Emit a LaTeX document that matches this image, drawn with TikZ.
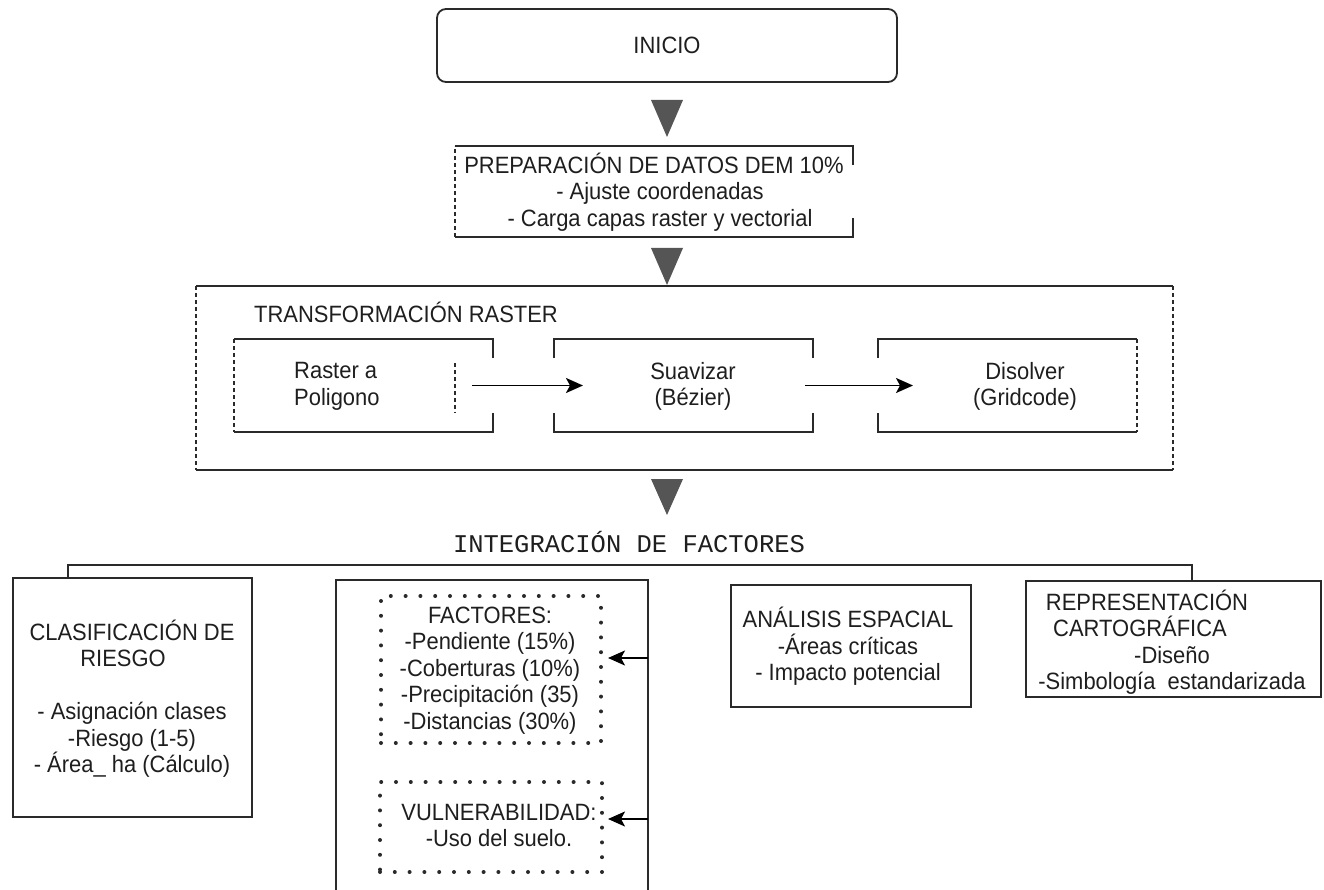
\documentclass[tikz,border=0pt]{standalone}
\usepackage{fontspec}
\setmainfont{Liberation Sans}[FakeStretch=0.93]
\newfontfamily\monofont{Liberation Mono}
\usetikzlibrary{arrows.meta}
\definecolor{lncol}{HTML}{2A2A2A}
\definecolor{txtcol}{HTML}{1E1E1E}
\definecolor{tricol}{HTML}{555555}
\begin{document}
\begin{tikzpicture}[x=1pt,y=-1pt,
  ln/.style={draw=lncol, line width=1.8pt},
  dsh/.style={draw=lncol, line width=1.4pt, dash pattern=on 4pt off 3pt},
  area/.style={rectangle, inner sep=0pt, outer sep=0pt},
  frame/.style={area, draw=lncol, line width=1.8pt},
  dotbox/.style={area, draw=lncol, line width=4pt, line cap=round, dash pattern=on 0pt off 14.8pt},
  txt/.style={inner sep=0pt, align=center, text=txtcol, font=\fontsize{23.6}{26.5}\selectfont},
  arr/.style={draw=black, line width=1.8pt, -{Stealth[length=17pt,width=15pt,inset=4pt]}},
  tri/.style={fill=tricol}
]
\useasboundingbox (0,0) rectangle (1324,890);
\clip (0,0) rectangle (1324,890);

% INICIO
\node[frame, rounded corners=9pt, minimum width=460, minimum height=73, txt] (inicio) at (667,45.5) {INICIO};

% triangle 1
\fill[tri] (651,100) -- (683,100) -- (667,137) -- cycle;

% PREPARACION
\node[area, minimum width=398, minimum height=91] (prep) at (654,191.5) {};
\draw[ln] ([yshift=-19pt]prep.north east) -- (prep.north east) -- (prep.north west);
\draw[ln] ([yshift=19pt]prep.south east) -- (prep.south east) -- (prep.south west);
\draw[dsh] (prep.south west) -- (prep.north west);
\node[txt] (preptxt) at (660,192) {\mbox{PREPARACIÓN DE DATOS DEM 10\%\kern12pt}\\- Ajuste coordenadas\\- Carga capas raster y vectorial};

% triangle 2
\fill[tri] (651,248) -- (683,248) -- (667,285) -- cycle;

% TRANSFORMACION RASTER
\node[area, minimum width=977, minimum height=184] (trans) at (684.5,378) {};
\draw[ln] (trans.north west) -- (trans.north east);
\draw[ln] (trans.south west) -- (trans.south east);
\draw[dsh] (trans.north west) -- (trans.south west);
\draw[dsh] (trans.north east) -- (trans.south east);
\node[txt, anchor=west] (transtxt) at (254,312) {TRANSFORMACIÓN RASTER};

% box 1
\node[area, minimum width=259, minimum height=93] (b1) at (363.5,385.5) {};
\draw[ln] ([yshift=-19pt]b1.north east) -- (b1.north east) -- (b1.north west);
\draw[ln] ([yshift=19pt]b1.south east) -- (b1.south east) -- (b1.south west);
\draw[dsh] (b1.north west) -- (b1.south west);
\draw[dsh] ([xshift=-38pt,yshift=22.5pt]b1.east) -- ([xshift=-38pt,yshift=-27.5pt]b1.east);
\node[txt, align=left, anchor=west] (b1txt) at (294,386.5) {Raster a\\Poligono};

% box 2
\node[area, minimum width=259, minimum height=93] (b2) at (683.5,385.5) {};
\draw[ln] ([yshift=-19pt]b2.north west) -- (b2.north west) -- (b2.north east) -- ([yshift=-19pt]b2.north east);
\draw[ln] ([yshift=19pt]b2.south west) -- (b2.south west) -- (b2.south east) -- ([yshift=19pt]b2.south east);
\node[txt] (b2txt) at (693,386.5) {Suavizar\\(Bézier)};

% box 3
\node[area, minimum width=259, minimum height=93] (b3) at (1007.5,385.5) {};
\draw[ln] ([yshift=-19pt]b3.north west) -- (b3.north west) -- (b3.north east);
\draw[ln] ([yshift=19pt]b3.south west) -- (b3.south west) -- (b3.south east);
\draw[dsh] (b3.north east) -- (b3.south east);
\node[txt] (b3txt) at (1025,386.5) {Disolver\\(Gridcode)};

% arrows between boxes
\draw[arr] ([xshift=-21pt]b1.east) -- ([xshift=29pt]b2.west);
\draw[arr] ([xshift=-8pt]b2.east) -- ([xshift=35pt]b3.west);

% triangle 3
\fill[tri] (651,479) -- (683,479) -- (667,515) -- cycle;

% INTEGRACION
\node[inner sep=0pt, text=txtcol, font=\monofont\fontsize{25.5}{30}\selectfont] (integ) at (629,542) {INTEGRACIÓN DE FACTORES};

% CLASIFICACION
\node[frame, minimum width=239, minimum height=239] (clas) at (132.5,697.5) {};
\node[txt] (clastxt) at (132,698.5) {CLASIFICACIÓN DE\\\mbox{RIESGO\kern18pt}\\[26.5pt]- Asignación clases\\-Riesgo (1-5)\\- Área\_ ha (Cálculo)};

% FACTORES outer
\node[frame, minimum width=312, minimum height=313] (fact) at (492,736.5) {};
\node[dotbox, minimum width=220, minimum height=147] (fbox) at (491,669.5) {};
\node[txt] (fboxtxt) at (490,670.5) {FACTORES:\\-Pendiente (15\%)\\-Coberturas (10\%)\\-Precipitación (35)\\-Distancias (30\%)};
\node[dotbox, minimum width=222, minimum height=90] (vbox) at (491,827) {};
\node[txt] (vboxtxt) at (499,825.5) {VULNERABILIDAD:\\-Uso del suelo.};
\coordinate (a1) at ([yshift=11.5pt]fbox.east);
\coordinate (a2) at ([yshift=8pt]vbox.east);
\draw[arr] (a1 -| fact.east) -- ([xshift=7pt]a1);
\draw[arr] (a2 -| fact.east) -- ([xshift=6pt]a2);

% ANALISIS
\node[frame, minimum width=240, minimum height=122] (anal) at (851,646) {};
\node[txt] (analtxt) at (848,646.5) {ANÁLISIS ESPACIAL\\-Áreas críticas\\- Impacto potencial};

% REPRESENTACION
\node[frame, minimum width=295, minimum height=116] (rep) at (1173.5,639) {};
\node[txt] (reptxt) at (1172,642) {\mbox{REPRESENTACIÓN\kern50pt}\\\mbox{CARTOGRÁFICA\kern64pt}\\-Diseño\\-Simbología~ estandarizada};

% bus connector
\draw[ln] ([xshift=55pt]clas.north west) -- ++(0,-13) -| ([xshift=18.5pt]rep.north);
\end{tikzpicture}
\end{document}
